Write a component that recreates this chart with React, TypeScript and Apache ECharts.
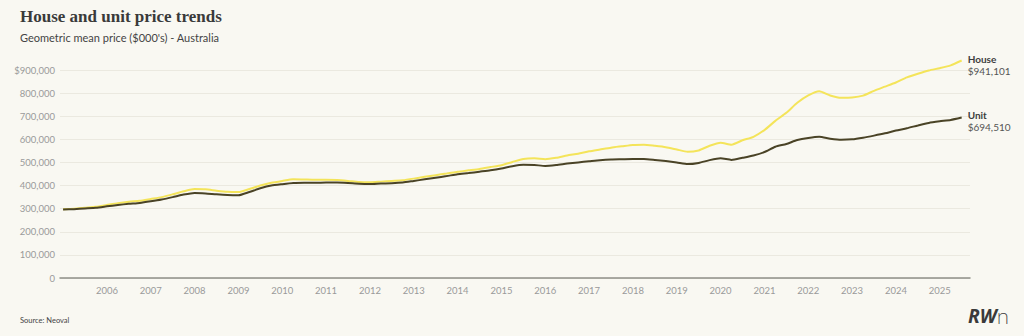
import React, { useEffect, useRef } from "react";
import * as echarts from "echarts";

// ---- Data (prices in $000s, quarterly from 2005 Q1 to mid-2025) ----
const startYear = 2005;
const stepYears = 0.25;
const house: number[] = [
  298, 300, 304, 308, 316, 324, 330, 334, 342, 350, 362, 375,
  385, 384, 378, 373, 372, 385, 400, 412, 420, 427, 426, 425,
  425, 424, 420, 415, 414, 417, 420, 423, 430, 438, 445, 452,
  460, 466, 472, 480, 488, 502, 515, 518, 514, 520, 530, 538,
  548, 556, 564, 570, 576, 577, 572, 566, 556, 546, 552, 572,
  585, 577, 596, 611, 640, 680, 715, 758, 790, 808, 790, 780,
  781, 789, 810, 828, 846, 868, 884, 898, 908, 920, 941.101,
];
const unit: number[] = [
  296, 298, 301, 304, 310, 316, 321, 325, 332, 340, 350, 361,
  368, 366, 362, 359, 358, 372, 388, 400, 406, 411, 412, 412,
  413, 413, 411, 408, 407, 409, 410, 413, 420, 427, 434, 441,
  449, 454, 460, 466, 474, 484, 490, 489, 485, 489, 495, 500,
  505, 510, 513, 514, 515, 515, 511, 506, 500, 493, 498, 510,
  518, 511, 520, 530, 545, 568, 580, 597, 606, 611, 603, 598,
  600, 607, 616, 626, 638, 648, 660, 671, 678, 684, 694.51,
];
const yearTicks: number[] = [
  2006, 2007, 2008, 2009, 2010, 2011, 2012, 2013, 2014, 2015,
  2016, 2017, 2018, 2019, 2020, 2021, 2022, 2023, 2024, 2025,
];
const seriesNames = ["House", "Unit"];
const title = "House and unit price trends";
const subtitle = "Geometric mean price ($000's) - Australia";
const source = "Source: Neoval";

const toPairs = (arr: number[]) =>
  arr.map((v, i) => [startYear + i * stepYears, v]);

const fmtDollars = (thousands: number) =>
  Math.round(thousands * 1000).toLocaleString("en-US");

export default function App() {
  const ref = useRef<HTMLDivElement>(null);

  useEffect(() => {
    document.body.style.margin = "0";
    if (!ref.current) return;
    const chart = echarts.init(ref.current, null, { renderer: "svg" });
    const axisFont = "Lato, 'Noto Sans', sans-serif";

    const endLabel = {
      show: true,
      distance: 6,
      offset: [0, 4],
      formatter: (p: any) =>
        `{n|${p.seriesName}}\n{v|$${fmtDollars(p.value[1])}}`,
      rich: {
        n: { fontFamily: axisFont, fontSize: 10, fontWeight: "bold", color: "#3d3d3d", lineHeight: 12 },
        v: { fontFamily: axisFont, fontSize: 10, color: "#555555", lineHeight: 12 },
      },
    };

    chart.setOption({
      animation: false,
      backgroundColor: "#f9f8f2",
      title: [
        {
          text: title,
          left: 15,
          top: 3,
          textStyle: {
            fontFamily: "'Liberation Serif', 'DejaVu Serif', serif",
            fontSize: 17,
            fontWeight: "bold",
            color: "#3a3a3a",
          },
        },
        {
          text: subtitle,
          left: 15,
          top: 27,
          textStyle: { fontFamily: axisFont, fontSize: 11, fontWeight: "normal", color: "#444444" },
        },
        {
          text: source,
          left: 15,
          top: 311,
          textStyle: { fontFamily: axisFont, fontSize: 7.5, fontWeight: "normal", color: "#444444" },
        },
      ],
      graphic: [
        {
          type: "text",
          right: 15,
          top: 305,
          style: {
            text: "{a|RW}{b|n}",
            rich: {
              a: { fontFamily: "'Noto Sans', sans-serif", fontSize: 19, fontWeight: "bold", fontStyle: "italic", fill: "#3a3a3a" },
              b: { fontFamily: "'Noto Sans', sans-serif", fontSize: 21, fontWeight: 200, fill: "#3a3a3a" },
            },
          },
        },
      ],
      grid: { left: 60, right: 54, top: 70, bottom: 58, containLabel: false },
      xAxis: {
        type: "value",
        min: 2004.93,
        max: 2025.69,
        axisLine: { show: true, lineStyle: { color: "#8f8f88", width: 1.5 } },
        axisTick: { show: false },
        splitLine: { show: false },
        axisLabel: {
          customValues: yearTicks,
          formatter: (v: number) => String(Math.round(v)),
          fontFamily: axisFont,
          fontSize: 9.5,
          color: "#9a9a9a",
          margin: 7,
        },
      },
      yAxis: {
        type: "value",
        min: 0,
        max: 900,
        interval: 100,
        axisLine: { show: false },
        axisTick: { show: false },
        splitLine: { lineStyle: { color: "#ebe9e0", width: 1 } },
        axisLabel: {
          formatter: (v: number) => (v === 900 ? "$" : "") + fmtDollars(v),
          fontFamily: axisFont,
          fontSize: 9.5,
          color: "#9a9a9a",
          margin: 5,
        },
      },
      series: [
        {
          name: seriesNames[0],
          type: "line",
          data: toPairs(house),
          showSymbol: false,
          clip: false,
          smooth: 0.2,
          lineStyle: { color: "#f4e45a", width: 2 },
          itemStyle: { color: "#f4e45a" },
          endLabel,
        },
        {
          name: seriesNames[1],
          type: "line",
          data: toPairs(unit),
          showSymbol: false,
          clip: false,
          smooth: 0.2,
          lineStyle: { color: "#4a4326", width: 2 },
          itemStyle: { color: "#4a4326" },
          endLabel,
        },
      ],
    });

    return () => chart.dispose();
  }, []);

  return <div ref={ref} style={{ width: 1024, height: 336 }} />;
}
